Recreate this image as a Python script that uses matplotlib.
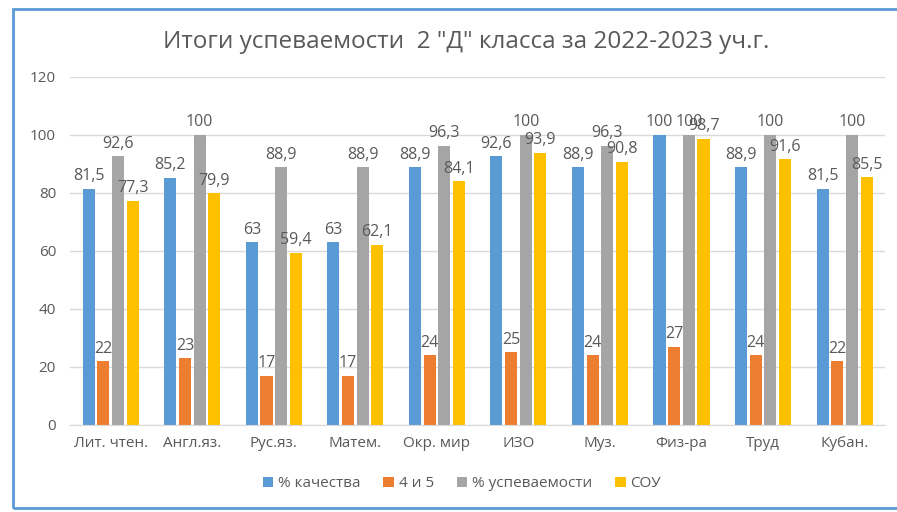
import matplotlib.pyplot as plt
from matplotlib.patches import Rectangle
import numpy as np

plt.rcParams['font.family'] = ['Open Sans', 'DejaVu Sans']

subjects = ["Лит. чтен.", "Англ.яз.", "Рус.яз.", "Матем.", "Окр. мир",
            "ИЗО", "Муз.", "Физ-ра", "Труд", "Кубан."]
kachestvo = [81.5, 85.2, 63, 63, 88.9, 92.6, 88.9, 100, 88.9, 81.5]
chetyre_pyat = [22, 23, 17, 17, 24, 25, 24, 27, 24, 22]
uspevaemost = [92.6, 100, 88.9, 88.9, 96.3, 100, 96.3, 100, 100, 100]
sou = [77.3, 79.9, 59.4, 62.1, 84.1, 93.9, 90.8, 98.7, 91.6, 85.5]

series_names = ["% качества", "4 и 5", "% успеваемости", "СОУ"]
series = [kachestvo, chetyre_pyat, uspevaemost, sou]
colors = ["#5B9BD5", "#ED7D31", "#A5A5A5", "#FFC000"]
text_col = "#595959"

fig = plt.figure(figsize=(8.97, 5.12), dpi=100)
ax = fig.add_axes([0.078, 0.17, 0.909, 0.68])

x = np.arange(len(subjects))
w = 0.148
step = 0.18
for k, (vals, col, name) in enumerate(zip(series, colors, series_names)):
    pos = x + (k - 1.5) * step
    ax.bar(pos, vals, width=w, color=col, label=name, zorder=3)
    for p, v in zip(pos, vals):
        lab = ("%g" % v).replace(".", ",")
        ax.text(p, v + 1.5, lab, ha="center", va="bottom", fontsize=11.5,
                color=text_col, zorder=4)

ax.set_xlim(-0.5, len(subjects) - 0.5)
ax.set_ylim(0, 120)
ax.set_yticks(range(0, 121, 20))
ax.yaxis.grid(True, color="#D9D9D9", linewidth=1, zorder=0)
ax.set_xticks(x)
ax.set_xticklabels(subjects)
ax.tick_params(axis="both", length=0, labelsize=11, labelcolor=text_col)
ax.tick_params(axis="x", pad=8)
ax.tick_params(axis="y", pad=10)
for s in ["top", "right", "left"]:
    ax.spines[s].set_visible(False)
ax.spines["bottom"].set_color("#D9D9D9")
ax.spines["bottom"].set_zorder(5)

fig.text(0.52, 0.918, 'Итоги успеваемости  2 "Д" класса за 2022-2023 уч.г.',
         ha="center", va="center", fontsize=17.5, color=text_col)

fig.legend(loc="center", bbox_to_anchor=(0.515, 0.055), ncol=4, frameon=False,
           fontsize=11, labelcolor=text_col, handlelength=0.7, handleheight=0.7,
           handletextpad=0.3, columnspacing=1.5)

fig.patches.append(Rectangle((0.0145, 0.008), 1.1, 0.974, transform=fig.transFigure,
                             fill=False, edgecolor="#5B9BD5", linewidth=2))

fig.savefig("out.png", dpi=100)
